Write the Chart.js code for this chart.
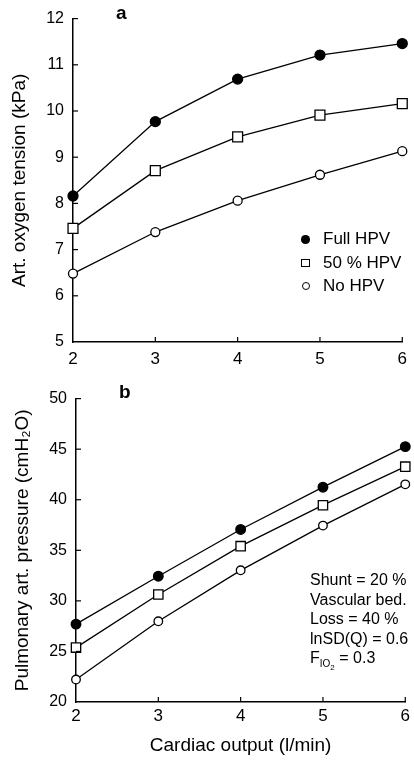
<!DOCTYPE html>
<html>
<head>
<meta charset="utf-8">
<script src="https://cdn.jsdelivr.net/npm/chart.js@4"></script>
<style>
  body { margin: 0; background: #fff; font-family: "Liberation Sans", Arial, sans-serif; color: #000; }
  #wrap { position: relative; width: 414px; height: 762px; overflow: hidden; }
  .panel { position: absolute; left: 0; }
  .lbl { position: absolute; font-weight: bold; font-size: 19px; }
  .legend { position: absolute; left: 299px; top: 227px; font-size: 17px; line-height: 23.5px; }
  .legend div { position: relative; padding-left: 24px; white-space: nowrap; }
  .mk { position: absolute; left: 2px; top: 8px; box-sizing: border-box; }
  .dot { width: 8.5px; height: 8.5px; border-radius: 50%; background: #000; }
  .sq { width: 8.5px; height: 8.5px; border: 1.2px solid #000; }
  .ring { width: 8px; height: 8px; border-radius: 50%; border: 1.2px solid #000; left: 2.5px; }
  .note { position: absolute; left: 310px; top: 570px; font-size: 16px; line-height: 19.5px; white-space: nowrap; }
  sub { font-size: 10px; }
  sub sub { font-size: 8px; }
</style>
</head>
<body>
<div id="wrap">
  <div class="panel" style="top:0"><canvas id="chartA" width="414" height="380"></canvas></div>
  <div class="panel" style="top:380px"><canvas id="chartB" width="414" height="382"></canvas></div>
  <div class="lbl" style="left:116px; top:2px">a</div>
  <div class="lbl" style="left:119px; top:381px">b</div>
  <div class="legend">
    <div><span class="mk dot"></span>Full HPV</div>
    <div><span class="mk sq"></span>50 % HPV</div>
    <div><span class="mk ring"></span>No HPV</div>
  </div>
  <div class="note">
    Shunt = 20 %<br>
    Vascular bed.<br>
    Loss = 40 %<br>
    lnSD(Q) = 0.6<br>
    F<sub>IO<sub>2</sub></sub> = 0.3
  </div>
</div>
<script>
const cardiacOutput = [2, 3, 4, 5, 6];

// panel a: arterial oxygen tension (kPa)
const oxygenFull = [8.16, 9.77, 10.69, 11.21, 11.46];
const oxygenHalf = [7.46, 8.71, 9.44, 9.91, 10.16];
const oxygenNone = [6.48, 7.38, 8.06, 8.62, 9.13];

// panel b: pulmonary artery pressure (cmH2O)
const pressureFull = [27.7, 32.44, 37.06, 41.24, 45.25];
const pressureHalf = [25.38, 30.63, 35.41, 39.46, 43.27];
const pressureNone = [22.22, 27.98, 33.02, 37.44, 41.52];

const FONT = "'Liberation Sans', Arial, sans-serif";

const pts = (ys) => cardiacOutput.map((x, i) => ({ x: x, y: ys[i] }));

function series(ys, style, radius, fill) {
  return {
    data: pts(ys),
    borderColor: "#000",
    borderWidth: 1.3,
    pointStyle: style,
    pointRadius: radius,
    pointBackgroundColor: fill,
    pointBorderColor: "#000",
    pointBorderWidth: 1.3,
    clip: false,
  };
}

// short tick marks pointing into the plot, like the original axes
const innerTicks = {
  id: "innerTicks",
  afterDraw(chart) {
    const ctx = chart.ctx;
    const xs = chart.scales.x, ys = chart.scales.y;
    const { left, bottom } = chart.chartArea;
    ctx.save();
    ctx.strokeStyle = "#000";
    ctx.lineWidth = 1.2;
    xs.ticks.forEach((t, i) => {
      if (i === 0) return;
      const px = xs.getPixelForValue(t.value);
      ctx.beginPath();
      ctx.moveTo(px, bottom);
      ctx.lineTo(px, bottom - 5);
      ctx.stroke();
    });
    ys.ticks.forEach((t, i) => {
      if (i === 0) return;
      const py = ys.getPixelForValue(t.value);
      ctx.beginPath();
      ctx.moveTo(left, py);
      ctx.lineTo(left + 5, py);
      ctx.stroke();
    });
    ctx.restore();
  },
};

function makeChart(id, sets, o) {
  return new Chart(document.getElementById(id), {
    type: "line",
    data: { datasets: sets },
    plugins: [innerTicks],
    options: {
      responsive: false,
      animation: false,
      events: [],
      layout: { padding: { top: o.top, right: o.right, left: 0, bottom: 0 } },
      plugins: { legend: { display: false }, tooltip: { enabled: false } },
      scales: {
        x: {
          type: "linear",
          min: 2,
          max: 6,
          afterFit: (s) => { s.height = o.xHeight; },
          ticks: { stepSize: 1, color: "#000", padding: o.xPad, font: { family: FONT, size: 17 } },
          grid: { display: true, drawOnChartArea: false, drawTicks: false },
          border: { color: "#000", width: 1.5 },
          title: {
            display: !!o.xTitle,
            text: o.xTitle || "",
            color: "#000",
            font: { family: FONT, size: 19 },
            padding: { top: 0, bottom: 5 },
          },
        },
        y: {
          min: o.yMin,
          max: o.yMax,
          afterFit: (s) => { s.width = o.yWidth; },
          ticks: { stepSize: o.yStep, color: "#000", padding: 9, font: { family: FONT, size: 16 } },
          grid: { display: true, drawOnChartArea: false, drawTicks: false },
          border: { color: "#000", width: 1.5 },
          title: {
            display: true,
            text: o.yTitle,
            color: "#000",
            font: { family: FONT, size: 19 },
            padding: { top: o.yTitlePad, bottom: 0 },
          },
        },
      },
    },
  });
}

makeChart("chartA", [
  series(oxygenFull, "circle", 5, "#000"),
  series(oxygenHalf, "rect", 7, "#fff"),
  series(oxygenNone, "circle", 4.5, "#fff"),
], {
  top: 16, right: 8, xHeight: 38, xPad: 7, yWidth: 73,
  yMin: 5, yMax: 12, yStep: 1,
  yTitle: "Art. oxygen tension (kPa)", yTitlePad: 8,
});

makeChart("chartB", [
  series(pressureFull, "circle", 4.8, "#000"),
  series(pressureHalf, "rect", 6.6, "#fff"),
  series(pressureNone, "circle", 4.3, "#fff"),
], {
  top: 8, right: 5, xHeight: 60, xPad: 4, yWidth: 76,
  yMin: 20, yMax: 50, yStep: 5,
  yTitle: "Pulmonary art. pressure (cmH\u2082O)", yTitlePad: 11,
  xTitle: "Cardiac output (l/min)",
});
</script>
</body>
</html>
